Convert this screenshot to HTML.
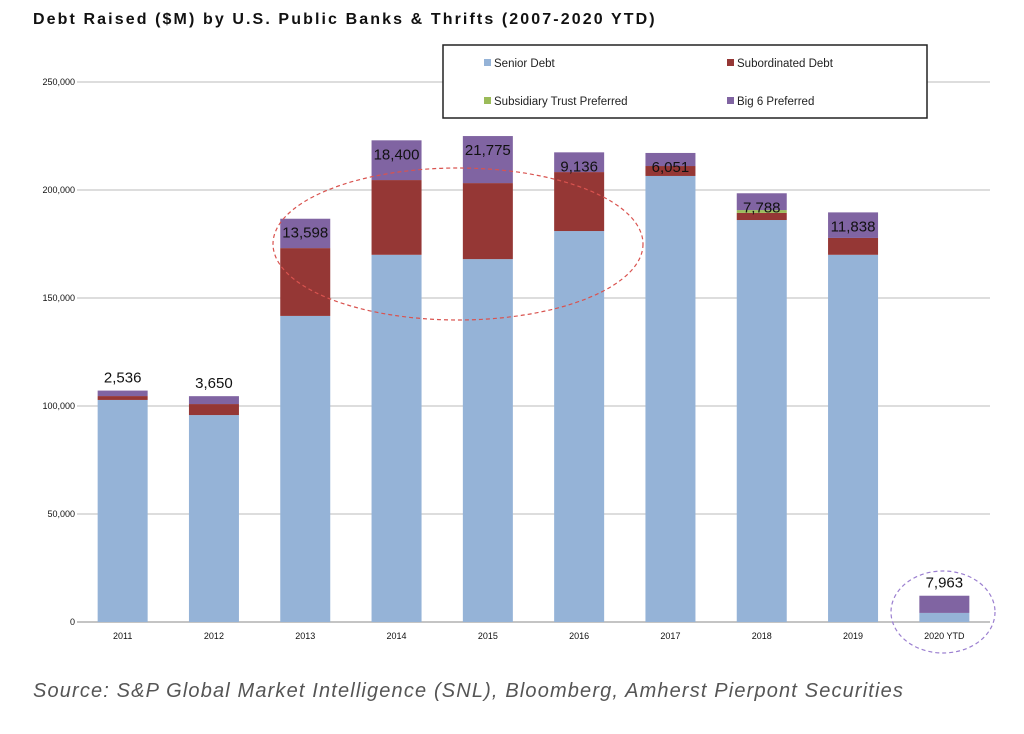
<!DOCTYPE html>
<html><head><meta charset="utf-8"><style>
body{margin:0;background:#fff;width:1024px;height:729px;overflow:hidden;font-family:"Liberation Sans",sans-serif;}
</style></head><body>
<svg width="1024" height="729" id="c" xmlns="http://www.w3.org/2000/svg">
<text x="33" y="24" font-size="16" font-weight="bold" letter-spacing="2.1" fill="#111">Debt Raised ($M) by U.S. Public Banks &amp; Thrifts (2007-2020 YTD)</text>
<g id="grid"></g><g id="bars"></g><g id="labels"></g>
<rect x="443" y="45" width="484" height="73" fill="#fff" stroke="#222" stroke-width="1.5"/>
<g font-size="11.5" fill="#222">
<rect x="484" y="59" width="7" height="7" fill="#95b3d7"/><text x="494" y="67">Senior Debt</text>
<rect x="727" y="59" width="7" height="7" fill="#953735"/><text x="737" y="67">Subordinated Debt</text>
<rect x="484" y="97" width="7" height="7" fill="#9bbb59"/><text x="494" y="105">Subsidiary Trust Preferred</text>
<rect x="727" y="97" width="7" height="7" fill="#8064a2"/><text x="737" y="105">Big 6 Preferred</text>
</g>
<ellipse cx="458" cy="244" rx="185" ry="76" fill="none" stroke="#d9534f" stroke-dasharray="4,3" stroke-width="1.2"/>
<ellipse cx="943" cy="612" rx="52" ry="41" fill="none" stroke="#9b7fd0" stroke-dasharray="4,3" stroke-width="1.2"/>
<text x="33" y="697" font-size="20" font-style="italic" letter-spacing="1.15" fill="#555">Source: S&amp;P Global Market Intelligence (SNL), Bloomberg, Amherst Pierpont Securities</text>
</svg>
<script>
const categories=["2011","2012","2013","2014","2015","2016","2017","2018","2019","2020 YTD"];
const senior=[102800,95800,141700,170000,168000,181000,206500,186100,170000,4200];
const subordinated=[1800,5100,31400,34600,35200,27300,4600,3300,7800,0];
const trust=[0,0,0,0,0,0,0,1300,0,0];
const big6=[2536,3650,13598,18400,21775,9136,6051,7788,11838,7963];
const labelInside=[false,false,true,true,true,true,true,true,true,false];
const yTicks=[0,50000,100000,150000,200000,250000];
const ns="http://www.w3.org/2000/svg";
const x0=77,x1=990,y0=622,yTop=82,yMax=250000;
const step=(x1-x0)/categories.length,bw=50;
const Y=v=>y0-(v/yMax)*(y0-yTop);
const X=i=>x0+step*(i+0.5);
function mk(tag,attrs,parent){const e=document.createElementNS(ns,tag);for(const k in attrs)e.setAttribute(k,attrs[k]);parent.appendChild(e);return e;}
const grid=document.getElementById('grid'),bars=document.getElementById('bars'),labels=document.getElementById('labels');
yTicks.forEach(t=>{
 const l=mk('line',{x1:x0,x2:x1,y1:Y(t),y2:Y(t),stroke:t===0?'#888':'#bbb','stroke-width':1},grid);
 
 
 const tx=mk('text',{x:75,y:Y(t)+3,'font-size':9,'text-anchor':'end',fill:'#111'},grid);
 tx.textContent=t.toLocaleString('en-US');
 
 
});
const series=[[senior,'#95b3d7','senior'],[subordinated,'#953735','subordinated'],[trust,'#9bbb59','trust'],[big6,'#8064a2','big6']];
categories.forEach((c,i)=>{
 let acc=0;
 series.forEach(([arr,col,nm])=>{
  const v=arr[i];if(v<=0)return;
  const r=mk('rect',{x:X(i)-bw/2,y:Y(acc+v),width:bw,height:Y(acc)-Y(acc+v),fill:col},bars);
  
  
  acc+=v;
 });
 const ly=labelInside[i]?Y(acc)+19:Y(acc)-8;
 const t=mk('text',{x:X(i),y:ly,'font-size':15,'text-anchor':'middle',fill:'#111'},labels);
 t.textContent=big6[i].toLocaleString('en-US');
 
 
 const xl=mk('text',{x:X(i),y:639,'font-size':9,'text-anchor':'middle',fill:'#111'},labels);
 xl.textContent=c;
 
 
});
</script>
</body></html>
